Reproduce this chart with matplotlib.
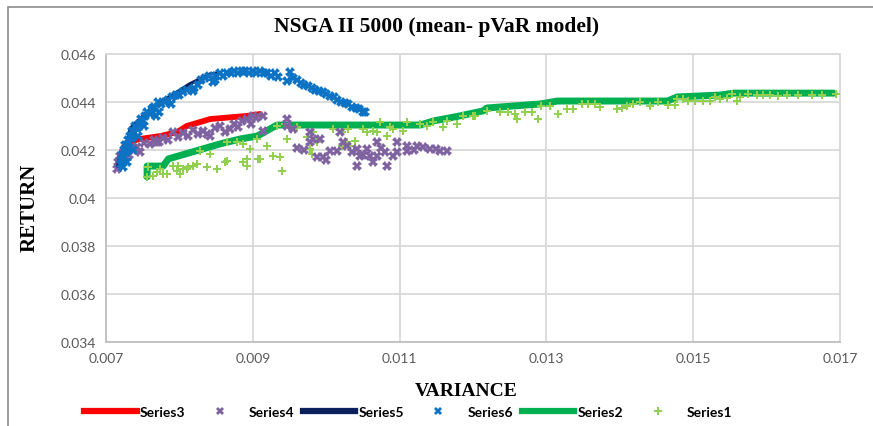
import matplotlib
matplotlib.use("Agg")
import matplotlib.pyplot as plt
from matplotlib.lines import Line2D
from matplotlib.patches import Rectangle

# ---- data ----
# Series3: red front line
s3_x = [0.00715, 0.00719, 0.00725, 0.00736, 0.00746, 0.00774, 0.00797, 0.00810, 0.00842, 0.00892, 0.00910]
s3_y = [0.04133, 0.04175, 0.04217, 0.04238, 0.04246, 0.04258, 0.04275, 0.04300, 0.04329, 0.04342, 0.04350]

# Series5: navy front line (mostly hidden under the blue crosses)
s5_x = [0.00716, 0.00719, 0.00729, 0.00733, 0.00760, 0.00814, 0.00842, 0.00855]
s5_y = [0.04133, 0.04171, 0.04217, 0.04290, 0.04370, 0.04475, 0.04517, 0.04521]

# Series2: green front line
s2_x = [0.00756, 0.00756, 0.00778, 0.00785, 0.00855, 0.00883, 0.00906, 0.00933, 0.01128, 0.01146,
        0.01182, 0.01214, 0.01219, 0.01292, 0.01315, 0.01465, 0.01478, 0.01537, 0.01555, 0.01692]
s2_y = [0.04088, 0.04133, 0.04133, 0.04163, 0.04225, 0.04246, 0.04258, 0.04304, 0.04304, 0.04321,
        0.04342, 0.04363, 0.04375, 0.04392, 0.04404, 0.04404, 0.04421, 0.04429, 0.04437, 0.04437]

# Series6: blue crosses
s6_x = [0.00720, 0.00721, 0.00723, 0.00722, 0.00725, 0.00724, 0.00727, 0.00726, 0.00729, 0.00730,
        0.00732, 0.00733, 0.00735, 0.00736, 0.00738, 0.00740, 0.00742, 0.00745, 0.00748, 0.00750,
        0.00753, 0.00756, 0.00760, 0.00763, 0.00766, 0.00772, 0.00775, 0.00780, 0.00785, 0.00790,
        0.00795, 0.00800, 0.00805, 0.00810, 0.00819, 0.00820, 0.00825, 0.00830, 0.00835, 0.00840,
        0.00846, 0.00848, 0.00850, 0.00855, 0.00860, 0.00865, 0.00870, 0.00875, 0.00880, 0.00885,
        0.00890, 0.00895, 0.00900, 0.00905, 0.00910, 0.00915, 0.00920, 0.00925, 0.00930, 0.00935,
        0.00947, 0.00951, 0.00955, 0.00960, 0.00965, 0.00970, 0.00975, 0.00980, 0.00985, 0.00990,
        0.00995, 0.01000, 0.01005, 0.01010, 0.01015, 0.01020, 0.01025, 0.01030, 0.01035, 0.01040,
        0.01045, 0.01050, 0.01053, 0.00728, 0.00737, 0.00744, 0.00752, 0.00768, 0.00788, 0.00771]
s6_y = [0.04140, 0.04160, 0.04130, 0.04180, 0.04170, 0.04200, 0.04190, 0.04220, 0.04210, 0.04240,
        0.04230, 0.04260, 0.04250, 0.04280, 0.04270, 0.04300, 0.04290, 0.04310, 0.04330, 0.04320,
        0.04340, 0.04360, 0.04350, 0.04370, 0.04380, 0.04358, 0.04390, 0.04400, 0.04410, 0.04420,
        0.04430, 0.04430, 0.04442, 0.04450, 0.04446, 0.04460, 0.04470, 0.04490, 0.04500, 0.04510,
        0.04483, 0.04490, 0.04510, 0.04520, 0.04510, 0.04520, 0.04520, 0.04530, 0.04520, 0.04530,
        0.04530, 0.04520, 0.04530, 0.04520, 0.04530, 0.04520, 0.04520, 0.04510, 0.04520, 0.04505,
        0.04487, 0.04525, 0.04500, 0.04490, 0.04480, 0.04470, 0.04465, 0.04460, 0.04450, 0.04445,
        0.04440, 0.04435, 0.04425, 0.04420, 0.04410, 0.04400, 0.04395, 0.04390, 0.04380, 0.04375,
        0.04370, 0.04360, 0.04358, 0.04150, 0.04200, 0.04260, 0.04300, 0.04340, 0.04390, 0.04400]

# Series4: purple crosses
s4_x = [0.00715, 0.00717, 0.00719, 0.00722, 0.00725, 0.00728, 0.00732, 0.00738, 0.00742, 0.00746,
        0.00752, 0.00760, 0.00765, 0.00770, 0.00772, 0.00778, 0.00785, 0.00791, 0.00798, 0.00805,
        0.00812, 0.00818, 0.00825, 0.00832, 0.00838, 0.00842, 0.00848, 0.00855, 0.00862, 0.00869,
        0.00875, 0.00880, 0.00885, 0.00892, 0.00898, 0.00900, 0.00905, 0.00914, 0.00914, 0.00947,
        0.00947, 0.00955, 0.00960, 0.00970, 0.00978, 0.00982, 0.00978, 0.00992, 0.01019, 0.01005,
        0.00996, 0.00988, 0.01000, 0.01015, 0.01023, 0.01028, 0.01035, 0.01046, 0.01042, 0.01050,
        0.01056, 0.01060, 0.01069, 0.01064, 0.01042, 0.01075, 0.01080, 0.01083, 0.01069, 0.01097,
        0.01091, 0.01097, 0.01110, 0.01110, 0.01120, 0.01124, 0.01132, 0.01142, 0.01150, 0.01155,
        0.01165]
s4_y = [0.04120, 0.04150, 0.04175, 0.04160, 0.04190, 0.04205, 0.04180, 0.04210, 0.04213, 0.04192,
        0.04230, 0.04225, 0.04240, 0.04233, 0.04235, 0.04250, 0.04240, 0.04275, 0.04255, 0.04270,
        0.04260, 0.04285, 0.04265, 0.04280, 0.04267, 0.04258, 0.04290, 0.04300, 0.04275, 0.04288,
        0.04310, 0.04295, 0.04320, 0.04329, 0.04310, 0.04342, 0.04335, 0.04342, 0.04280, 0.04330,
        0.04300, 0.04288, 0.04210, 0.04200, 0.04275, 0.04246, 0.04233, 0.04246, 0.04275, 0.04196,
        0.04171, 0.04171, 0.04160, 0.04196, 0.04233, 0.04217, 0.04190, 0.04175, 0.04204, 0.04180,
        0.04204, 0.04175, 0.04233, 0.04150, 0.04133, 0.04210, 0.04190, 0.04133, 0.04175, 0.04192,
        0.04175, 0.04233, 0.04217, 0.04196, 0.04200, 0.04217, 0.04213, 0.04204, 0.04205, 0.04196,
        0.04196]

# Series1: light green plus markers
s1_x = [0.00756, 0.00757, 0.00764, 0.00770, 0.00774, 0.00778, 0.00783, 0.00791, 0.00797, 0.00798,
        0.00801, 0.00805, 0.00810, 0.00812, 0.00819, 0.00824, 0.00828, 0.00838, 0.00842, 0.00851,
        0.00862, 0.00865, 0.00865, 0.00879, 0.00887, 0.00887, 0.00892, 0.00892, 0.00896, 0.00906,
        0.00907, 0.00910, 0.00919, 0.00928, 0.00933, 0.00937, 0.00940, 0.00944, 0.00947, 0.00951,
        0.00960, 0.00974, 0.00978, 0.00981, 0.00982, 0.00988, 0.01009, 0.01022, 0.01022, 0.01028,
        0.01030, 0.01033, 0.01039, 0.01050, 0.01056, 0.01064, 0.01069, 0.01073, 0.01083, 0.01087,
        0.01091, 0.01105, 0.01110, 0.01128, 0.01137, 0.01146, 0.01159, 0.01165, 0.01178, 0.01187,
        0.01200, 0.01203, 0.01219, 0.01237, 0.01248, 0.01257, 0.01260, 0.01271, 0.01281, 0.01289,
        0.01292, 0.01305, 0.01316, 0.01328, 0.01336, 0.01349, 0.01357, 0.01366, 0.01373, 0.01396,
        0.01403, 0.01410, 0.01418, 0.01428, 0.01441, 0.01452, 0.01466, 0.01475, 0.01478, 0.01486,
        0.01493, 0.01503, 0.01514, 0.01523, 0.01530, 0.01537, 0.01546, 0.01553, 0.01560, 0.01564,
        0.01575, 0.01587, 0.01595, 0.01605, 0.01616, 0.01628, 0.01643, 0.01662, 0.01676, 0.01694]
s1_y = [0.04088, 0.04129, 0.04092, 0.04108, 0.04121, 0.04100, 0.04100, 0.04133, 0.04113, 0.04133,
        0.04100, 0.04121, 0.04121, 0.04129, 0.04133, 0.04142, 0.04196, 0.04129, 0.04183, 0.04121,
        0.04150, 0.04233, 0.04154, 0.04233, 0.04150, 0.04225, 0.04163, 0.04133, 0.04204, 0.04246,
        0.04163, 0.04163, 0.04217, 0.04175, 0.04300, 0.04171, 0.04113, 0.04308, 0.04246, 0.04296,
        0.04296, 0.04254, 0.04204, 0.04183, 0.04275, 0.04233, 0.04288, 0.04275, 0.04217, 0.04233,
        0.04288, 0.04217, 0.04238, 0.04288, 0.04275, 0.04279, 0.04275, 0.04317, 0.04258, 0.04296,
        0.04288, 0.04279, 0.04317, 0.04308, 0.04300, 0.04317, 0.04296, 0.04321, 0.04308, 0.04342,
        0.04342, 0.04342, 0.04363, 0.04358, 0.04358, 0.04350, 0.04329, 0.04358, 0.04358, 0.04329,
        0.04383, 0.04383, 0.04350, 0.04371, 0.04371, 0.04392, 0.04392, 0.04392, 0.04379, 0.04371,
        0.04375, 0.04383, 0.04392, 0.04400, 0.04383, 0.04400, 0.04388, 0.04388, 0.04413, 0.04413,
        0.04404, 0.04404, 0.04404, 0.04404, 0.04421, 0.04413, 0.04417, 0.04433, 0.04404, 0.04421,
        0.04433, 0.04429, 0.04429, 0.04429, 0.04425, 0.04429, 0.04429, 0.04429, 0.04429, 0.04433]

x_ticks = [0.007, 0.009, 0.011, 0.013, 0.015, 0.017]
x_labels = ["0.007", "0.009", "0.011", "0.013", "0.015", "0.017"]
y_ticks = [0.034, 0.036, 0.038, 0.04, 0.042, 0.044, 0.046]
y_labels = ["0.034", "0.036", "0.038", "0.04", "0.042", "0.044", "0.046"]

# ---- colours ----
RED = "#FF0000"
PURPLE = "#7F63A1"
NAVY = "#0B1F5C"
BLUE = "#0B72C4"
GREEN = "#00B050"
LIGHT_GREEN = "#92D050"
GRID = "#D9D9D9"
TICK_TXT = "#595959"

fig = plt.figure(figsize=(8.73, 4.27), dpi=100)
ax = fig.add_axes([106 / 873, 1 - 343 / 427, (840 - 106) / 873, (343 - 55) / 427])

# outer chart frame (top + left edges visible)
fig.add_artist(Rectangle((8 / 873, -0.2), 1.2, 1.2 - 8 / 427,
                         transform=fig.transFigure, fill=False,
                         edgecolor="#8C8C8C", linewidth=1.2))

# lines and markers
ax.plot(s2_x, s2_y, color=GREEN, linewidth=5.0, solid_capstyle="round", solid_joinstyle="round", zorder=2)
ax.plot(s1_x, s1_y, linestyle="none", marker="P", markersize=6, color=LIGHT_GREEN,
        markeredgewidth=0, zorder=3)
ax.plot(s3_x, s3_y, color=RED, linewidth=4.2, solid_capstyle="round", solid_joinstyle="round", zorder=4)
ax.plot(s4_x, s4_y, linestyle="none", marker="X", markersize=6.5, color=PURPLE,
        markeredgewidth=0, zorder=5)
ax.plot(s5_x, s5_y, color=NAVY, linewidth=2.5, solid_capstyle="round", zorder=6)
ax.plot(s6_x, s6_y, linestyle="none", marker="X", markersize=6.5, color=BLUE,
        markeredgewidth=0, zorder=7)

ax.set_xlim(0.007, 0.017)
ax.set_ylim(0.034, 0.046)
ax.set_xticks(x_ticks)
ax.set_xticklabels(x_labels)
ax.set_yticks(y_ticks)
ax.set_yticklabels(y_labels)
ax.tick_params(length=0, pad=7, labelsize=10, labelcolor=TICK_TXT)
for lab in ax.get_xticklabels() + ax.get_yticklabels():
    lab.set_family("Lato")
ax.grid(True, color=GRID, linewidth=1.3)
ax.set_axisbelow(True)
for side in ["top", "right", "left", "bottom"]:
    ax.spines[side].set_color(GRID)
    ax.spines[side].set_linewidth(1.3)
ax.spines["left"].set_color("#BFBFBF")
ax.spines["bottom"].set_color("#BFBFBF")

fig.text(0.5, 1 - 27 / 427, "NSGA II 5000 (mean- pVaR model)", ha="center", va="center",
         fontsize=15.5, fontweight="bold", family="Liberation Serif")
fig.text(466 / 873, 1 - 392 / 427, "VARIANCE", ha="center", va="center",
         fontsize=14, fontweight="bold", family="Liberation Serif")
fig.text(30 / 873, 1 - 208 / 427, "RETURN", ha="center", va="center", rotation=90,
         fontsize=15, fontweight="bold", family="Liberation Serif")

# legend in the original order
handles = [
    Line2D([], [], color=RED, linewidth=4.5),
    Line2D([], [], linestyle="none", marker="X", markersize=5.5, color=PURPLE, markeredgewidth=0),
    Line2D([], [], color=NAVY, linewidth=4.5),
    Line2D([], [], linestyle="none", marker="X", markersize=5.5, color=BLUE, markeredgewidth=0),
    Line2D([], [], color=GREEN, linewidth=4.5),
    Line2D([], [], linestyle="none", marker="P", markersize=5.5, color=LIGHT_GREEN, markeredgewidth=0),
]
labels = ["Series3", "Series4", "Series5", "Series6", "Series2", "Series1"]
leg = fig.legend(handles, labels, loc="center", bbox_to_anchor=(408 / 873, 1 - 413 / 427),
                 ncol=6, frameon=False, handlelength=3.8, handletextpad=0.2,
                 columnspacing=0.6, prop={"family": "Lato", "weight": "bold", "size": 10})

fig.savefig("out.png", dpi=100)
